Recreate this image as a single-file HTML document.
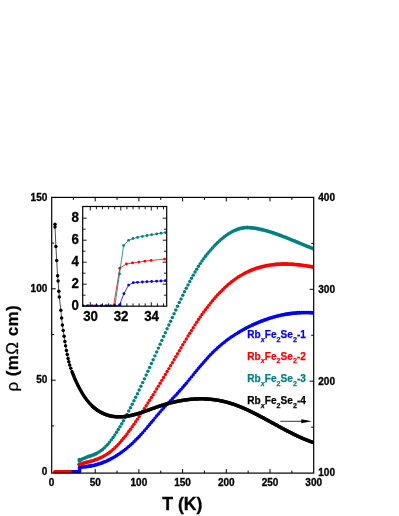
<!DOCTYPE html>
<html><head><meta charset="utf-8"><title>chart</title>
<style>html,body{margin:0;padding:0;background:#fff}body{width:399px;height:516px;overflow:hidden}</style></head>
<body>
<svg width="399" height="516" viewBox="0 0 399 516" style="display:block;will-change:transform;font-family:'Liberation Sans',sans-serif;font-weight:bold">
<rect width="399" height="516" fill="#fff"/>
<clipPath id="mc"><rect x="51.7" y="197.4" width="262.3" height="276.20000000000005"/></clipPath><g clip-path="url(#mc)">
<line x1="54.8" y1="471.7" x2="72" y2="471.7" stroke="#ff0000" stroke-width="3.5" stroke-linecap="round"/>
<polyline points="73,471.7 79.6,471.7 79.6,467.6" fill="none" stroke="#0000ff" stroke-width="3.5" stroke-linecap="round" stroke-linejoin="round"/>
<g fill="#0000ff"><circle cx="79.60" cy="467.40" r="1.72"/><circle cx="79.90" cy="466.99" r="1.73"/><circle cx="81.65" cy="466.95" r="1.94"/><circle cx="83.39" cy="466.86" r="1.94"/><circle cx="85.14" cy="466.72" r="1.93"/><circle cx="86.88" cy="466.53" r="1.93"/><circle cx="88.62" cy="466.30" r="1.93"/><circle cx="90.37" cy="466.02" r="1.92"/><circle cx="92.11" cy="465.69" r="1.92"/><circle cx="93.86" cy="465.31" r="1.91"/><circle cx="95.60" cy="464.88" r="1.90"/><circle cx="97.34" cy="464.40" r="1.89"/><circle cx="99.09" cy="463.87" r="1.89"/><circle cx="100.83" cy="463.29" r="1.88"/><circle cx="102.58" cy="462.65" r="1.87"/><circle cx="104.32" cy="461.97" r="1.86"/><circle cx="106.06" cy="461.23" r="1.85"/><circle cx="107.81" cy="460.43" r="1.84"/><circle cx="109.55" cy="459.59" r="1.83"/><circle cx="111.30" cy="458.68" r="1.82"/><circle cx="113.04" cy="457.73" r="1.81"/><circle cx="114.78" cy="456.72" r="1.80"/><circle cx="116.53" cy="455.65" r="1.79"/><circle cx="118.27" cy="454.53" r="1.79"/><circle cx="120.02" cy="453.35" r="1.78"/><circle cx="121.76" cy="452.11" r="1.77"/><circle cx="123.50" cy="450.82" r="1.76"/><circle cx="125.25" cy="449.46" r="1.76"/><circle cx="126.99" cy="448.05" r="1.75"/><circle cx="128.74" cy="446.58" r="1.75"/><circle cx="130.48" cy="445.05" r="1.74"/><circle cx="132.22" cy="443.46" r="1.74"/><circle cx="133.97" cy="441.81" r="1.74"/><circle cx="135.71" cy="440.10" r="1.73"/><circle cx="137.46" cy="438.33" r="1.73"/><circle cx="139.20" cy="436.49" r="1.73"/><circle cx="140.94" cy="434.60" r="1.73"/><circle cx="142.69" cy="432.64" r="1.73"/><circle cx="144.43" cy="430.64" r="1.73"/><circle cx="146.18" cy="428.60" r="1.72"/><circle cx="147.92" cy="426.53" r="1.72"/><circle cx="149.66" cy="424.43" r="1.72"/><circle cx="151.41" cy="422.32" r="1.72"/><circle cx="153.15" cy="420.21" r="1.72"/><circle cx="154.90" cy="418.10" r="1.72"/><circle cx="156.64" cy="416.00" r="1.72"/><circle cx="158.38" cy="413.93" r="1.72"/><circle cx="160.13" cy="411.88" r="1.73"/><circle cx="161.87" cy="409.88" r="1.73"/><circle cx="163.62" cy="407.93" r="1.73"/><circle cx="165.36" cy="406.03" r="1.73"/><circle cx="167.10" cy="404.19" r="1.73"/><circle cx="168.85" cy="402.39" r="1.73"/><circle cx="170.59" cy="400.61" r="1.73"/><circle cx="172.34" cy="398.81" r="1.73"/><circle cx="174.08" cy="396.99" r="1.73"/><circle cx="175.82" cy="395.14" r="1.73"/><circle cx="177.57" cy="393.26" r="1.73"/><circle cx="179.31" cy="391.33" r="1.73"/><circle cx="181.06" cy="389.36" r="1.73"/><circle cx="182.80" cy="387.34" r="1.73"/><circle cx="184.54" cy="385.29" r="1.72"/><circle cx="186.29" cy="383.21" r="1.72"/><circle cx="188.03" cy="381.10" r="1.72"/><circle cx="189.78" cy="378.98" r="1.72"/><circle cx="191.52" cy="376.85" r="1.72"/><circle cx="193.26" cy="374.71" r="1.72"/><circle cx="195.01" cy="372.57" r="1.72"/><circle cx="196.75" cy="370.45" r="1.72"/><circle cx="198.50" cy="368.33" r="1.72"/><circle cx="200.24" cy="366.24" r="1.72"/><circle cx="201.98" cy="364.18" r="1.72"/><circle cx="203.73" cy="362.15" r="1.73"/><circle cx="205.47" cy="360.17" r="1.73"/><circle cx="207.22" cy="358.23" r="1.73"/><circle cx="208.96" cy="356.34" r="1.73"/><circle cx="210.70" cy="354.52" r="1.73"/><circle cx="212.45" cy="352.76" r="1.73"/><circle cx="214.19" cy="351.05" r="1.74"/><circle cx="215.94" cy="349.40" r="1.74"/><circle cx="217.68" cy="347.81" r="1.74"/><circle cx="219.42" cy="346.27" r="1.75"/><circle cx="221.17" cy="344.78" r="1.75"/><circle cx="222.91" cy="343.34" r="1.76"/><circle cx="224.66" cy="341.95" r="1.76"/><circle cx="226.40" cy="340.61" r="1.76"/><circle cx="228.14" cy="339.31" r="1.77"/><circle cx="229.89" cy="338.06" r="1.77"/><circle cx="231.63" cy="336.84" r="1.78"/><circle cx="233.38" cy="335.67" r="1.79"/><circle cx="235.12" cy="334.54" r="1.79"/><circle cx="236.86" cy="333.44" r="1.80"/><circle cx="238.61" cy="332.38" r="1.80"/><circle cx="240.35" cy="331.35" r="1.81"/><circle cx="242.10" cy="330.35" r="1.81"/><circle cx="243.84" cy="329.38" r="1.82"/><circle cx="245.58" cy="328.44" r="1.82"/><circle cx="247.33" cy="327.52" r="1.83"/><circle cx="249.07" cy="326.64" r="1.83"/><circle cx="250.82" cy="325.78" r="1.83"/><circle cx="252.56" cy="324.95" r="1.84"/><circle cx="254.30" cy="324.14" r="1.84"/><circle cx="256.05" cy="323.36" r="1.85"/><circle cx="257.79" cy="322.61" r="1.85"/><circle cx="259.54" cy="321.89" r="1.86"/><circle cx="261.28" cy="321.19" r="1.86"/><circle cx="263.02" cy="320.52" r="1.87"/><circle cx="264.77" cy="319.88" r="1.87"/><circle cx="266.51" cy="319.26" r="1.88"/><circle cx="268.26" cy="318.67" r="1.88"/><circle cx="270.00" cy="318.11" r="1.89"/><circle cx="271.74" cy="317.58" r="1.89"/><circle cx="273.49" cy="317.07" r="1.90"/><circle cx="275.23" cy="316.59" r="1.90"/><circle cx="276.98" cy="316.13" r="1.90"/><circle cx="278.72" cy="315.71" r="1.91"/><circle cx="280.46" cy="315.31" r="1.91"/><circle cx="282.21" cy="314.94" r="1.92"/><circle cx="283.95" cy="314.59" r="1.92"/><circle cx="285.70" cy="314.27" r="1.92"/><circle cx="287.44" cy="313.98" r="1.93"/><circle cx="289.18" cy="313.72" r="1.93"/><circle cx="290.93" cy="313.48" r="1.93"/><circle cx="292.67" cy="313.27" r="1.93"/><circle cx="294.42" cy="313.09" r="1.93"/><circle cx="296.16" cy="312.94" r="1.94"/><circle cx="297.90" cy="312.81" r="1.94"/><circle cx="299.65" cy="312.71" r="1.94"/><circle cx="301.39" cy="312.63" r="1.94"/><circle cx="303.14" cy="312.59" r="1.94"/><circle cx="304.88" cy="312.57" r="1.94"/><circle cx="306.62" cy="312.57" r="1.94"/><circle cx="308.37" cy="312.61" r="1.94"/><circle cx="310.11" cy="312.67" r="1.94"/><circle cx="311.86" cy="312.76" r="1.94"/><circle cx="313.60" cy="312.88" r="1.94"/></g>
<g fill="#ff0000"><circle cx="79.00" cy="464.60" r="1.82"/><circle cx="79.90" cy="464.10" r="1.84"/><circle cx="81.65" cy="463.62" r="1.90"/><circle cx="83.39" cy="463.16" r="1.90"/><circle cx="85.14" cy="462.71" r="1.90"/><circle cx="86.88" cy="462.25" r="1.90"/><circle cx="88.62" cy="461.79" r="1.90"/><circle cx="90.37" cy="461.31" r="1.90"/><circle cx="92.11" cy="460.81" r="1.89"/><circle cx="93.86" cy="460.27" r="1.89"/><circle cx="95.60" cy="459.69" r="1.88"/><circle cx="97.34" cy="459.05" r="1.87"/><circle cx="99.09" cy="458.36" r="1.85"/><circle cx="100.83" cy="457.59" r="1.84"/><circle cx="102.58" cy="456.74" r="1.83"/><circle cx="104.32" cy="455.81" r="1.81"/><circle cx="106.06" cy="454.78" r="1.80"/><circle cx="107.81" cy="453.64" r="1.78"/><circle cx="109.55" cy="452.39" r="1.77"/><circle cx="111.30" cy="451.02" r="1.75"/><circle cx="113.04" cy="449.53" r="1.74"/><circle cx="114.78" cy="447.92" r="1.74"/><circle cx="116.53" cy="446.20" r="1.73"/><circle cx="118.27" cy="444.37" r="1.73"/><circle cx="120.02" cy="442.45" r="1.73"/><circle cx="121.76" cy="440.44" r="1.72"/><circle cx="123.50" cy="438.34" r="1.72"/><circle cx="125.25" cy="436.16" r="1.72"/><circle cx="126.99" cy="433.91" r="1.72"/><circle cx="128.74" cy="431.58" r="1.72"/><circle cx="130.48" cy="429.19" r="1.72"/><circle cx="132.22" cy="426.75" r="1.72"/><circle cx="133.97" cy="424.25" r="1.72"/><circle cx="135.71" cy="421.71" r="1.72"/><circle cx="137.46" cy="419.13" r="1.72"/><circle cx="139.20" cy="416.51" r="1.72"/><circle cx="140.94" cy="413.86" r="1.72"/><circle cx="142.69" cy="411.19" r="1.72"/><circle cx="144.43" cy="408.50" r="1.72"/><circle cx="146.18" cy="405.78" r="1.72"/><circle cx="147.92" cy="403.04" r="1.72"/><circle cx="149.66" cy="400.27" r="1.72"/><circle cx="151.41" cy="397.48" r="1.72"/><circle cx="153.15" cy="394.68" r="1.72"/><circle cx="154.90" cy="391.85" r="1.72"/><circle cx="156.64" cy="389.00" r="1.72"/><circle cx="158.38" cy="386.14" r="1.72"/><circle cx="160.13" cy="383.26" r="1.72"/><circle cx="161.87" cy="380.36" r="1.72"/><circle cx="163.62" cy="377.44" r="1.72"/><circle cx="165.36" cy="374.51" r="1.72"/><circle cx="167.10" cy="371.57" r="1.72"/><circle cx="168.85" cy="368.61" r="1.72"/><circle cx="170.59" cy="365.64" r="1.72"/><circle cx="172.34" cy="362.66" r="1.72"/><circle cx="174.08" cy="359.67" r="1.72"/><circle cx="175.82" cy="356.69" r="1.72"/><circle cx="177.57" cy="353.70" r="1.72"/><circle cx="179.31" cy="350.72" r="1.72"/><circle cx="181.06" cy="347.75" r="1.72"/><circle cx="182.80" cy="344.79" r="1.72"/><circle cx="184.54" cy="341.86" r="1.72"/><circle cx="186.29" cy="338.95" r="1.72"/><circle cx="188.03" cy="336.06" r="1.72"/><circle cx="189.78" cy="333.21" r="1.72"/><circle cx="191.52" cy="330.40" r="1.72"/><circle cx="193.26" cy="327.63" r="1.72"/><circle cx="195.01" cy="324.90" r="1.72"/><circle cx="196.75" cy="322.22" r="1.72"/><circle cx="198.50" cy="319.59" r="1.72"/><circle cx="200.24" cy="317.03" r="1.72"/><circle cx="201.98" cy="314.52" r="1.72"/><circle cx="203.73" cy="312.08" r="1.72"/><circle cx="205.47" cy="309.70" r="1.72"/><circle cx="207.22" cy="307.38" r="1.72"/><circle cx="208.96" cy="305.13" r="1.72"/><circle cx="210.70" cy="302.94" r="1.72"/><circle cx="212.45" cy="300.81" r="1.72"/><circle cx="214.19" cy="298.75" r="1.73"/><circle cx="215.94" cy="296.75" r="1.73"/><circle cx="217.68" cy="294.82" r="1.73"/><circle cx="219.42" cy="292.95" r="1.73"/><circle cx="221.17" cy="291.15" r="1.73"/><circle cx="222.91" cy="289.42" r="1.74"/><circle cx="224.66" cy="287.75" r="1.74"/><circle cx="226.40" cy="286.15" r="1.74"/><circle cx="228.14" cy="284.62" r="1.75"/><circle cx="229.89" cy="283.15" r="1.75"/><circle cx="231.63" cy="281.75" r="1.76"/><circle cx="233.38" cy="280.42" r="1.77"/><circle cx="235.12" cy="279.16" r="1.77"/><circle cx="236.86" cy="277.95" r="1.78"/><circle cx="238.61" cy="276.81" r="1.79"/><circle cx="240.35" cy="275.73" r="1.80"/><circle cx="242.10" cy="274.71" r="1.81"/><circle cx="243.84" cy="273.74" r="1.82"/><circle cx="245.58" cy="272.83" r="1.83"/><circle cx="247.33" cy="271.98" r="1.84"/><circle cx="249.07" cy="271.18" r="1.85"/><circle cx="250.82" cy="270.42" r="1.86"/><circle cx="252.56" cy="269.72" r="1.86"/><circle cx="254.30" cy="269.07" r="1.87"/><circle cx="256.05" cy="268.46" r="1.88"/><circle cx="257.79" cy="267.90" r="1.89"/><circle cx="259.54" cy="267.38" r="1.90"/><circle cx="261.28" cy="266.90" r="1.90"/><circle cx="263.02" cy="266.46" r="1.91"/><circle cx="264.77" cy="266.06" r="1.91"/><circle cx="266.51" cy="265.70" r="1.92"/><circle cx="268.26" cy="265.38" r="1.92"/><circle cx="270.00" cy="265.10" r="1.93"/><circle cx="271.74" cy="264.85" r="1.93"/><circle cx="273.49" cy="264.63" r="1.93"/><circle cx="275.23" cy="264.45" r="1.93"/><circle cx="276.98" cy="264.30" r="1.94"/><circle cx="278.72" cy="264.18" r="1.94"/><circle cx="280.46" cy="264.10" r="1.94"/><circle cx="282.21" cy="264.04" r="1.94"/><circle cx="283.95" cy="264.02" r="1.94"/><circle cx="285.70" cy="264.02" r="1.94"/><circle cx="287.44" cy="264.05" r="1.94"/><circle cx="289.18" cy="264.10" r="1.94"/><circle cx="290.93" cy="264.18" r="1.94"/><circle cx="292.67" cy="264.28" r="1.94"/><circle cx="294.42" cy="264.41" r="1.94"/><circle cx="296.16" cy="264.56" r="1.93"/><circle cx="297.90" cy="264.73" r="1.93"/><circle cx="299.65" cy="264.92" r="1.93"/><circle cx="301.39" cy="265.13" r="1.93"/><circle cx="303.14" cy="265.36" r="1.93"/><circle cx="304.88" cy="265.60" r="1.93"/><circle cx="306.62" cy="265.86" r="1.93"/><circle cx="308.37" cy="266.14" r="1.92"/><circle cx="310.11" cy="266.43" r="1.92"/><circle cx="311.86" cy="266.74" r="1.92"/><circle cx="313.60" cy="267.06" r="1.92"/></g>
<g fill="#008080"><circle cx="79.20" cy="459.40" r="1.72"/><circle cx="79.20" cy="461.10" r="1.72"/><circle cx="79.90" cy="460.42" r="1.75"/><circle cx="81.65" cy="459.39" r="1.82"/><circle cx="83.39" cy="458.52" r="1.84"/><circle cx="85.14" cy="457.77" r="1.86"/><circle cx="86.88" cy="457.10" r="1.87"/><circle cx="88.62" cy="456.49" r="1.88"/><circle cx="90.37" cy="455.89" r="1.88"/><circle cx="92.11" cy="455.28" r="1.87"/><circle cx="93.86" cy="454.63" r="1.86"/><circle cx="95.60" cy="453.89" r="1.84"/><circle cx="97.34" cy="453.03" r="1.82"/><circle cx="99.09" cy="452.02" r="1.79"/><circle cx="100.83" cy="450.83" r="1.77"/><circle cx="102.58" cy="449.44" r="1.75"/><circle cx="104.32" cy="447.87" r="1.74"/><circle cx="106.06" cy="446.11" r="1.73"/><circle cx="107.81" cy="444.19" r="1.73"/><circle cx="109.55" cy="442.10" r="1.72"/><circle cx="111.30" cy="439.86" r="1.72"/><circle cx="113.04" cy="437.48" r="1.72"/><circle cx="114.78" cy="434.96" r="1.72"/><circle cx="116.53" cy="432.33" r="1.72"/><circle cx="118.27" cy="429.58" r="1.72"/><circle cx="120.02" cy="426.72" r="1.72"/><circle cx="121.76" cy="423.77" r="1.72"/><circle cx="123.50" cy="420.72" r="1.72"/><circle cx="125.25" cy="417.59" r="1.72"/><circle cx="126.99" cy="414.38" r="1.72"/><circle cx="128.74" cy="411.09" r="1.72"/><circle cx="130.48" cy="407.73" r="1.72"/><circle cx="132.22" cy="404.30" r="1.72"/><circle cx="133.97" cy="400.82" r="1.72"/><circle cx="135.71" cy="397.27" r="1.72"/><circle cx="137.46" cy="393.67" r="1.72"/><circle cx="139.20" cy="390.02" r="1.72"/><circle cx="140.94" cy="386.34" r="1.72"/><circle cx="142.69" cy="382.61" r="1.72"/><circle cx="144.43" cy="378.85" r="1.72"/><circle cx="146.18" cy="375.06" r="1.72"/><circle cx="147.92" cy="371.25" r="1.72"/><circle cx="149.66" cy="367.42" r="1.72"/><circle cx="151.41" cy="363.57" r="1.72"/><circle cx="153.15" cy="359.72" r="1.72"/><circle cx="154.90" cy="355.85" r="1.72"/><circle cx="156.64" cy="351.98" r="1.72"/><circle cx="158.38" cy="348.11" r="1.72"/><circle cx="160.13" cy="344.24" r="1.72"/><circle cx="161.87" cy="340.38" r="1.72"/><circle cx="163.62" cy="336.52" r="1.72"/><circle cx="165.36" cy="332.67" r="1.72"/><circle cx="167.10" cy="328.83" r="1.72"/><circle cx="168.85" cy="325.01" r="1.72"/><circle cx="170.59" cy="321.20" r="1.72"/><circle cx="172.34" cy="317.42" r="1.72"/><circle cx="174.08" cy="313.66" r="1.72"/><circle cx="175.82" cy="309.92" r="1.72"/><circle cx="177.57" cy="306.22" r="1.72"/><circle cx="179.31" cy="302.55" r="1.72"/><circle cx="181.06" cy="298.92" r="1.72"/><circle cx="182.80" cy="295.32" r="1.72"/><circle cx="184.54" cy="291.78" r="1.72"/><circle cx="186.29" cy="288.30" r="1.72"/><circle cx="188.03" cy="284.88" r="1.72"/><circle cx="189.78" cy="281.54" r="1.72"/><circle cx="191.52" cy="278.29" r="1.72"/><circle cx="193.26" cy="275.13" r="1.72"/><circle cx="195.01" cy="272.07" r="1.72"/><circle cx="196.75" cy="269.13" r="1.72"/><circle cx="198.50" cy="266.31" r="1.72"/><circle cx="200.24" cy="263.61" r="1.72"/><circle cx="201.98" cy="261.05" r="1.72"/><circle cx="203.73" cy="258.62" r="1.72"/><circle cx="205.47" cy="256.30" r="1.72"/><circle cx="207.22" cy="254.08" r="1.72"/><circle cx="208.96" cy="251.96" r="1.72"/><circle cx="210.70" cy="249.92" r="1.73"/><circle cx="212.45" cy="247.95" r="1.73"/><circle cx="214.19" cy="246.07" r="1.73"/><circle cx="215.94" cy="244.27" r="1.73"/><circle cx="217.68" cy="242.55" r="1.74"/><circle cx="219.42" cy="240.91" r="1.74"/><circle cx="221.17" cy="239.36" r="1.75"/><circle cx="222.91" cy="237.90" r="1.76"/><circle cx="224.66" cy="236.53" r="1.76"/><circle cx="226.40" cy="235.24" r="1.77"/><circle cx="228.14" cy="234.05" r="1.79"/><circle cx="229.89" cy="232.96" r="1.80"/><circle cx="231.63" cy="231.96" r="1.82"/><circle cx="233.38" cy="231.06" r="1.83"/><circle cx="235.12" cy="230.26" r="1.85"/><circle cx="236.86" cy="229.55" r="1.87"/><circle cx="238.61" cy="228.96" r="1.89"/><circle cx="240.35" cy="228.46" r="1.90"/><circle cx="242.10" cy="228.07" r="1.92"/><circle cx="243.84" cy="227.79" r="1.93"/><circle cx="245.58" cy="227.62" r="1.94"/><circle cx="247.33" cy="227.55" r="1.94"/><circle cx="249.07" cy="227.58" r="1.94"/><circle cx="250.82" cy="227.69" r="1.94"/><circle cx="252.56" cy="227.88" r="1.93"/><circle cx="254.30" cy="228.12" r="1.93"/><circle cx="256.05" cy="228.40" r="1.92"/><circle cx="257.79" cy="228.72" r="1.92"/><circle cx="259.54" cy="229.08" r="1.91"/><circle cx="261.28" cy="229.47" r="1.91"/><circle cx="263.02" cy="229.88" r="1.91"/><circle cx="264.77" cy="230.33" r="1.90"/><circle cx="266.51" cy="230.80" r="1.90"/><circle cx="268.26" cy="231.30" r="1.89"/><circle cx="270.00" cy="231.83" r="1.89"/><circle cx="271.74" cy="232.37" r="1.89"/><circle cx="273.49" cy="232.94" r="1.88"/><circle cx="275.23" cy="233.53" r="1.88"/><circle cx="276.98" cy="234.14" r="1.88"/><circle cx="278.72" cy="234.77" r="1.87"/><circle cx="280.46" cy="235.41" r="1.87"/><circle cx="282.21" cy="236.07" r="1.87"/><circle cx="283.95" cy="236.74" r="1.86"/><circle cx="285.70" cy="237.42" r="1.86"/><circle cx="287.44" cy="238.11" r="1.86"/><circle cx="289.18" cy="238.81" r="1.86"/><circle cx="290.93" cy="239.52" r="1.86"/><circle cx="292.67" cy="240.24" r="1.86"/><circle cx="294.42" cy="240.96" r="1.86"/><circle cx="296.16" cy="241.68" r="1.86"/><circle cx="297.90" cy="242.41" r="1.86"/><circle cx="299.65" cy="243.14" r="1.86"/><circle cx="301.39" cy="243.86" r="1.86"/><circle cx="303.14" cy="244.59" r="1.86"/><circle cx="304.88" cy="245.31" r="1.86"/><circle cx="306.62" cy="246.02" r="1.86"/><circle cx="308.37" cy="246.73" r="1.86"/><circle cx="310.11" cy="247.43" r="1.86"/><circle cx="311.86" cy="248.12" r="1.86"/><circle cx="313.60" cy="248.80" r="1.86"/></g>
<polyline points="55.00,224.20 55.00,226.90 55.90,246.40 56.70,260.40 57.60,275.70 58.10,281.00 58.80,291.30 59.30,297.00 60.80,310.20 61.60,317.90 62.40,324.90 63.20,330.60 64.10,336.20 64.90,341.60 65.55,345.80 66.40,350.50 67.25,354.50 68.10,358.40 68.80,361.70 69.70,365.00 70.80,368.30" fill="none" stroke="#000" stroke-width="0.7"/>
<g fill="#000"><circle cx="55.00" cy="224.20" r="1.75"/><circle cx="55.00" cy="226.90" r="1.75"/><circle cx="55.90" cy="246.40" r="1.75"/><circle cx="56.70" cy="260.40" r="1.75"/><circle cx="57.60" cy="275.70" r="1.75"/><circle cx="58.10" cy="281.00" r="1.75"/><circle cx="58.80" cy="291.30" r="1.75"/><circle cx="59.30" cy="297.00" r="1.75"/><circle cx="60.80" cy="310.20" r="1.75"/><circle cx="61.60" cy="317.90" r="1.75"/><circle cx="62.40" cy="324.90" r="1.75"/><circle cx="63.20" cy="330.60" r="1.75"/><circle cx="64.10" cy="336.20" r="1.75"/><circle cx="64.90" cy="341.60" r="1.75"/><circle cx="65.55" cy="345.80" r="1.75"/><circle cx="66.40" cy="350.50" r="1.75"/><circle cx="67.25" cy="354.50" r="1.75"/><circle cx="68.10" cy="358.40" r="1.75"/><circle cx="68.80" cy="361.70" r="1.75"/><circle cx="69.70" cy="365.00" r="1.75"/><circle cx="70.80" cy="368.30" r="1.75"/></g>
<polyline points="72.00,371.68 72.40,372.71 72.80,373.73 73.20,374.73 73.60,375.71 74.00,376.68 74.40,377.63 74.80,378.56 75.20,379.48 75.60,380.38 76.00,381.27 76.40,382.14 76.80,383.00 77.20,383.84 77.60,384.66 78.00,385.48 78.40,386.27 78.80,387.06 79.20,387.82 79.60,388.58 80.00,389.32 80.40,390.05 80.80,390.76 81.20,391.46 81.60,392.15 82.00,392.82 82.40,393.48 82.80,394.13 83.20,394.76 83.60,395.38 84.00,395.99 84.40,396.59 84.80,397.17 85.20,397.74 85.60,398.30 86.00,398.85 86.40,399.39 86.80,399.92 87.20,400.43 87.60,400.93 88.00,401.43 88.40,401.91 88.80,402.38 89.20,402.84 89.60,403.29 90.00,403.73 90.40,404.16 90.80,404.58 91.20,404.99 91.60,405.39 92.00,405.78 92.40,406.16 92.80,406.53 93.20,406.90 93.60,407.25 94.00,407.59 94.40,407.93 94.80,408.26 95.20,408.58 95.60,408.89 96.00,409.20 96.40,409.49 96.80,409.78 97.20,410.06 97.60,410.33 98.00,410.60 98.40,410.86 98.80,411.11 99.20,411.36 99.60,411.59 100.00,411.83 100.40,412.05 100.80,412.27 101.20,412.48 101.60,412.69 102.00,412.89 102.40,413.09 102.80,413.28 103.20,413.46 103.60,413.64 104.00,413.82 104.40,413.98 104.80,414.15 105.20,414.31 105.60,414.46 106.00,414.60 106.40,414.75 106.80,414.88 107.20,415.02 107.60,415.14 108.00,415.26 108.40,415.38 108.80,415.49 109.20,415.60 109.60,415.70 110.00,415.80 110.40,415.89 110.80,415.98 111.20,416.06 111.60,416.14 112.00,416.22 112.40,416.29 112.80,416.35 113.20,416.42 113.60,416.47 114.00,416.52 114.40,416.57 114.80,416.62 115.20,416.66 115.60,416.69 116.00,416.73 116.40,416.75 116.80,416.78 117.20,416.80 117.60,416.81 118.00,416.82 118.40,416.83 118.80,416.84 119.20,416.84 119.60,416.84 120.00,416.83 120.40,416.82 120.80,416.81 121.20,416.79 121.60,416.77 122.00,416.75 122.40,416.72 122.80,416.69 123.20,416.66 123.60,416.62 124.00,416.58 124.40,416.54 124.80,416.49 125.20,416.44 125.60,416.39 126.00,416.34 126.40,416.28 126.80,416.22 127.20,416.16 127.60,416.09 128.00,416.02 128.40,415.95 128.80,415.88 129.20,415.80 129.60,415.72 130.00,415.64 130.40,415.56 130.80,415.47 131.20,415.38 131.60,415.29 132.00,415.20 132.40,415.11 132.80,415.01 133.20,414.91 133.60,414.81 134.00,414.71 134.40,414.60 134.80,414.49 135.20,414.38 135.60,414.27 136.00,414.16 136.40,414.05 136.80,413.93 137.20,413.82 137.60,413.70 138.00,413.58 138.40,413.45 138.80,413.33 139.20,413.21 139.60,413.08 140.00,412.95 140.40,412.83 140.80,412.70 141.20,412.56 141.60,412.43 142.00,412.30 142.40,412.17 142.80,412.03 143.20,411.90 143.60,411.76 144.00,411.62 144.40,411.48 144.80,411.34 145.20,411.20 145.60,411.06 146.00,410.92 146.40,410.78 146.80,410.64 147.20,410.50 147.60,410.35 148.00,410.21 148.40,410.07 148.80,409.92 149.20,409.78 149.60,409.64 150.00,409.49 150.40,409.35 150.80,409.20 151.20,409.06 151.60,408.91 152.00,408.77 152.40,408.63 152.80,408.48 153.20,408.34 153.60,408.19 154.00,408.05 154.40,407.91 154.80,407.77 155.20,407.62 155.60,407.48 156.00,407.34 156.40,407.20 156.80,407.06 157.20,406.92 157.60,406.79 158.00,406.65 158.40,406.51 158.80,406.38 159.20,406.24 159.60,406.11 160.00,405.98 160.40,405.85 160.80,405.71 161.20,405.59 161.60,405.46 162.00,405.33 162.40,405.20 162.80,405.08 163.20,404.96 163.60,404.83 164.00,404.71 164.40,404.59 164.80,404.47 165.20,404.35 165.60,404.24 166.00,404.12 166.40,404.00 166.80,403.89 167.20,403.78 167.60,403.67 168.00,403.56 168.40,403.45 168.80,403.34 169.20,403.23 169.60,403.13 170.00,403.02 170.40,402.92 170.80,402.82 171.20,402.72 171.60,402.62 172.00,402.52 172.40,402.42 172.80,402.32 173.20,402.23 173.60,402.14 174.00,402.04 174.40,401.95 174.80,401.86 175.20,401.77 175.60,401.69 176.00,401.60 176.40,401.51 176.80,401.43 177.20,401.35 177.60,401.27 178.00,401.19 178.40,401.11 178.80,401.03 179.20,400.95 179.60,400.88 180.00,400.80 180.40,400.73 180.80,400.66 181.20,400.59 181.60,400.52 182.00,400.46 182.40,400.39 182.80,400.33 183.20,400.26 183.60,400.20 184.00,400.14 184.40,400.08 184.80,400.02 185.20,399.97 185.60,399.91 186.00,399.86 186.40,399.80 186.80,399.75 187.20,399.70 187.60,399.65 188.00,399.61 188.40,399.56 188.80,399.52 189.20,399.47 189.60,399.43 190.00,399.39 190.40,399.35 190.80,399.32 191.20,399.28 191.60,399.24 192.00,399.21 192.40,399.18 192.80,399.15 193.20,399.12 193.60,399.09 194.00,399.07 194.40,399.04 194.80,399.02 195.20,399.00 195.60,398.98 196.00,398.96 196.40,398.94 196.80,398.92 197.20,398.91 197.60,398.90 198.00,398.89 198.40,398.88 198.80,398.87 199.20,398.86 199.60,398.85 200.00,398.85 200.40,398.85 200.80,398.85 201.20,398.85 201.60,398.85 202.00,398.85 202.40,398.86 202.80,398.86 203.20,398.87 203.60,398.88 204.00,398.89 204.40,398.91 204.80,398.92 205.20,398.94 205.60,398.95 206.00,398.97 206.40,398.99 206.80,399.02 207.20,399.04 207.60,399.06 208.00,399.09 208.40,399.12 208.80,399.15 209.20,399.18 209.60,399.21 210.00,399.25 210.40,399.29 210.80,399.32 211.20,399.36 211.60,399.40 212.00,399.45 212.40,399.49 212.80,399.54 213.20,399.59 213.60,399.64 214.00,399.69 214.40,399.74 214.80,399.79 215.20,399.85 215.60,399.91 216.00,399.97 216.40,400.03 216.80,400.09 217.20,400.16 217.60,400.22 218.00,400.29 218.40,400.36 218.80,400.43 219.20,400.50 219.60,400.58 220.00,400.65 220.40,400.73 220.80,400.81 221.20,400.89 221.60,400.98 222.00,401.06 222.40,401.15 222.80,401.24 223.20,401.33 223.60,401.42 224.00,401.51 224.40,401.61 224.80,401.71 225.20,401.81 225.60,401.91 226.00,402.01 226.40,402.11 226.80,402.22 227.20,402.33 227.60,402.44 228.00,402.55 228.40,402.66 228.80,402.78 229.20,402.90 229.60,403.01 230.00,403.13 230.40,403.26 230.80,403.38 231.20,403.51 231.60,403.64 232.00,403.77 232.40,403.90 232.80,404.03 233.20,404.16 233.60,404.30 234.00,404.44 234.40,404.58 234.80,404.72 235.20,404.86 235.60,405.01 236.00,405.15 236.40,405.30 236.80,405.45 237.20,405.60 237.60,405.76 238.00,405.91 238.40,406.06 238.80,406.22 239.20,406.38 239.60,406.54 240.00,406.70 240.40,406.86 240.80,407.03 241.20,407.19 241.60,407.36 242.00,407.53 242.40,407.70 242.80,407.87 243.20,408.04 243.60,408.21 244.00,408.39 244.40,408.56 244.80,408.74 245.20,408.92 245.60,409.10 246.00,409.28 246.40,409.46 246.80,409.64 247.20,409.83 247.60,410.01 248.00,410.20 248.40,410.38 248.80,410.57 249.20,410.76 249.60,410.95 250.00,411.14 250.40,411.34 250.80,411.53 251.20,411.72 251.60,411.92 252.00,412.11 252.40,412.31 252.80,412.51 253.20,412.71 253.60,412.91 254.00,413.11 254.40,413.31 254.80,413.51 255.20,413.71 255.60,413.92 256.00,414.12 256.40,414.32 256.80,414.53 257.20,414.74 257.60,414.94 258.00,415.15 258.40,415.36 258.80,415.57 259.20,415.78 259.60,415.99 260.00,416.20 260.40,416.41 260.80,416.62 261.20,416.83 261.60,417.04 262.00,417.26 262.40,417.47 262.80,417.69 263.20,417.90 263.60,418.11 264.00,418.33 264.40,418.55 264.80,418.76 265.20,418.98 265.60,419.19 266.00,419.41 266.40,419.63 266.80,419.85 267.20,420.06 267.60,420.28 268.00,420.50 268.40,420.72 268.80,420.94 269.20,421.16 269.60,421.38 270.00,421.60 270.40,421.81 270.80,422.03 271.20,422.25 271.60,422.47 272.00,422.69 272.40,422.91 272.80,423.13 273.20,423.35 273.60,423.57 274.00,423.79 274.40,424.01 274.80,424.23 275.20,424.45 275.60,424.67 276.00,424.89 276.40,425.11 276.80,425.33 277.20,425.55 277.60,425.77 278.00,425.98 278.40,426.20 278.80,426.42 279.20,426.64 279.60,426.86 280.00,427.07 280.40,427.29 280.80,427.51 281.20,427.72 281.60,427.94 282.00,428.16 282.40,428.37 282.80,428.59 283.20,428.80 283.60,429.01 284.00,429.23 284.40,429.44 284.80,429.65 285.20,429.87 285.60,430.08 286.00,430.29 286.40,430.50 286.80,430.71 287.20,430.92 287.60,431.13 288.00,431.33 288.40,431.54 288.80,431.75 289.20,431.95 289.60,432.16 290.00,432.37 290.40,432.57 290.80,432.77 291.20,432.98 291.60,433.18 292.00,433.38 292.40,433.58 292.80,433.78 293.20,433.98 293.60,434.17 294.00,434.37 294.40,434.57 294.80,434.76 295.20,434.96 295.60,435.15 296.00,435.34 296.40,435.53 296.80,435.72 297.20,435.91 297.60,436.10 298.00,436.29 298.40,436.47 298.80,436.66 299.20,436.84 299.60,437.02 300.00,437.21 300.40,437.39 300.80,437.57 301.20,437.74 301.60,437.92 302.00,438.10 302.40,438.27 302.80,438.44 303.20,438.62 303.60,438.79 304.00,438.96 304.40,439.12 304.80,439.29 305.20,439.46 305.60,439.62 306.00,439.78 306.40,439.94 306.80,440.10 307.20,440.26 307.60,440.42 308.00,440.57 308.40,440.73 308.80,440.88 309.20,441.03 309.60,441.18 310.00,441.33 310.40,441.48 310.80,441.62 311.20,441.76 311.60,441.90 312.00,442.04 312.40,442.18 312.80,442.32 313.20,442.45 313.60,442.59" fill="none" stroke="#000" stroke-width="3.4" stroke-linecap="round" stroke-linejoin="round"/>
<polyline points="92.40,406.16 92.80,406.53 93.20,406.90 93.60,407.25 94.00,407.59 94.40,407.93 94.80,408.26 95.20,408.58 95.60,408.89 96.00,409.20 96.40,409.49 96.80,409.78 97.20,410.06 97.60,410.33 98.00,410.60 98.40,410.86 98.80,411.11 99.20,411.36 99.60,411.59 100.00,411.83 100.40,412.05 100.80,412.27 101.20,412.48 101.60,412.69 102.00,412.89 102.40,413.09 102.80,413.28 103.20,413.46 103.60,413.64 104.00,413.82 104.40,413.98 104.80,414.15 105.20,414.31 105.60,414.46 106.00,414.60 106.40,414.75 106.80,414.88 107.20,415.02 107.60,415.14 108.00,415.26 108.40,415.38 108.80,415.49 109.20,415.60 109.60,415.70 110.00,415.80 110.40,415.89 110.80,415.98 111.20,416.06 111.60,416.14 112.00,416.22 112.40,416.29 112.80,416.35 113.20,416.42 113.60,416.47 114.00,416.52 114.40,416.57 114.80,416.62 115.20,416.66 115.60,416.69 116.00,416.73 116.40,416.75 116.80,416.78 117.20,416.80 117.60,416.81 118.00,416.82 118.40,416.83 118.80,416.84 119.20,416.84 119.60,416.84 120.00,416.83 120.40,416.82 120.80,416.81 121.20,416.79 121.60,416.77 122.00,416.75 122.40,416.72 122.80,416.69 123.20,416.66 123.60,416.62 124.00,416.58 124.40,416.54 124.80,416.49 125.20,416.44 125.60,416.39 126.00,416.34 126.40,416.28 126.80,416.22 127.20,416.16 127.60,416.09 128.00,416.02 128.40,415.95 128.80,415.88 129.20,415.80 129.60,415.72 130.00,415.64 130.40,415.56 130.80,415.47 131.20,415.38 131.60,415.29 132.00,415.20 132.40,415.11 132.80,415.01 133.20,414.91 133.60,414.81 134.00,414.71 134.40,414.60 134.80,414.49 135.20,414.38 135.60,414.27 136.00,414.16 136.40,414.05 136.80,413.93 137.20,413.82 137.60,413.70 138.00,413.58 138.40,413.45 138.80,413.33 139.20,413.21 139.60,413.08 140.00,412.95 140.40,412.83 140.80,412.70 141.20,412.56 141.60,412.43 142.00,412.30 142.40,412.17 142.80,412.03 143.20,411.90 143.60,411.76 144.00,411.62 144.40,411.48 144.80,411.34 145.20,411.20 145.60,411.06 146.00,410.92 146.40,410.78 146.80,410.64 147.20,410.50 147.60,410.35 148.00,410.21 148.40,410.07 148.80,409.92 149.20,409.78 149.60,409.64 150.00,409.49 150.40,409.35 150.80,409.20 151.20,409.06 151.60,408.91 152.00,408.77 152.40,408.63 152.80,408.48 153.20,408.34 153.60,408.19 154.00,408.05 154.40,407.91 154.80,407.77 155.20,407.62 155.60,407.48 156.00,407.34 156.40,407.20 156.80,407.06 157.20,406.92 157.60,406.79 158.00,406.65 158.40,406.51 158.80,406.38 159.20,406.24 159.60,406.11 160.00,405.98 160.40,405.85 160.80,405.71 161.20,405.59 161.60,405.46 162.00,405.33 162.40,405.20 162.80,405.08 163.20,404.96 163.60,404.83 164.00,404.71 164.40,404.59 164.80,404.47 165.20,404.35 165.60,404.24 166.00,404.12 166.40,404.00 166.80,403.89 167.20,403.78 167.60,403.67 168.00,403.56 168.40,403.45 168.80,403.34 169.20,403.23 169.60,403.13 170.00,403.02 170.40,402.92 170.80,402.82 171.20,402.72 171.60,402.62 172.00,402.52 172.40,402.42 172.80,402.32 173.20,402.23 173.60,402.14 174.00,402.04 174.40,401.95 174.80,401.86 175.20,401.77 175.60,401.69 176.00,401.60 176.40,401.51 176.80,401.43 177.20,401.35 177.60,401.27 178.00,401.19 178.40,401.11 178.80,401.03 179.20,400.95 179.60,400.88 180.00,400.80 180.40,400.73 180.80,400.66 181.20,400.59 181.60,400.52 182.00,400.46 182.40,400.39 182.80,400.33 183.20,400.26 183.60,400.20 184.00,400.14 184.40,400.08 184.80,400.02 185.20,399.97 185.60,399.91 186.00,399.86 186.40,399.80 186.80,399.75 187.20,399.70 187.60,399.65 188.00,399.61 188.40,399.56 188.80,399.52 189.20,399.47 189.60,399.43 190.00,399.39 190.40,399.35 190.80,399.32 191.20,399.28 191.60,399.24 192.00,399.21 192.40,399.18 192.80,399.15 193.20,399.12 193.60,399.09 194.00,399.07 194.40,399.04 194.80,399.02 195.20,399.00 195.60,398.98 196.00,398.96 196.40,398.94 196.80,398.92 197.20,398.91 197.60,398.90 198.00,398.89 198.40,398.88 198.80,398.87 199.20,398.86 199.60,398.85 200.00,398.85 200.40,398.85 200.80,398.85 201.20,398.85 201.60,398.85 202.00,398.85 202.40,398.86 202.80,398.86 203.20,398.87 203.60,398.88 204.00,398.89 204.40,398.91 204.80,398.92 205.20,398.94 205.60,398.95 206.00,398.97 206.40,398.99 206.80,399.02 207.20,399.04 207.60,399.06 208.00,399.09 208.40,399.12 208.80,399.15 209.20,399.18 209.60,399.21 210.00,399.25 210.40,399.29 210.80,399.32 211.20,399.36 211.60,399.40 212.00,399.45 212.40,399.49 212.80,399.54 213.20,399.59 213.60,399.64 214.00,399.69 214.40,399.74 214.80,399.79 215.20,399.85 215.60,399.91 216.00,399.97 216.40,400.03 216.80,400.09 217.20,400.16 217.60,400.22 218.00,400.29 218.40,400.36 218.80,400.43 219.20,400.50 219.60,400.58 220.00,400.65 220.40,400.73 220.80,400.81 221.20,400.89 221.60,400.98 222.00,401.06 222.40,401.15 222.80,401.24 223.20,401.33 223.60,401.42 224.00,401.51 224.40,401.61 224.80,401.71 225.20,401.81 225.60,401.91 226.00,402.01 226.40,402.11 226.80,402.22 227.20,402.33 227.60,402.44 228.00,402.55 228.40,402.66 228.80,402.78 229.20,402.90 229.60,403.01 230.00,403.13 230.40,403.26 230.80,403.38 231.20,403.51 231.60,403.64 232.00,403.77 232.40,403.90 232.80,404.03 233.20,404.16 233.60,404.30 234.00,404.44 234.40,404.58 234.80,404.72 235.20,404.86 235.60,405.01 236.00,405.15 236.40,405.30 236.80,405.45 237.20,405.60 237.60,405.76 238.00,405.91 238.40,406.06 238.80,406.22 239.20,406.38 239.60,406.54 240.00,406.70 240.40,406.86 240.80,407.03 241.20,407.19 241.60,407.36 242.00,407.53 242.40,407.70 242.80,407.87 243.20,408.04 243.60,408.21 244.00,408.39 244.40,408.56 244.80,408.74 245.20,408.92 245.60,409.10 246.00,409.28 246.40,409.46 246.80,409.64 247.20,409.83 247.60,410.01 248.00,410.20 248.40,410.38 248.80,410.57 249.20,410.76 249.60,410.95 250.00,411.14 250.40,411.34 250.80,411.53 251.20,411.72 251.60,411.92 252.00,412.11 252.40,412.31 252.80,412.51 253.20,412.71 253.60,412.91 254.00,413.11 254.40,413.31 254.80,413.51 255.20,413.71 255.60,413.92 256.00,414.12 256.40,414.32 256.80,414.53 257.20,414.74 257.60,414.94 258.00,415.15 258.40,415.36 258.80,415.57 259.20,415.78 259.60,415.99 260.00,416.20 260.40,416.41 260.80,416.62 261.20,416.83 261.60,417.04 262.00,417.26 262.40,417.47 262.80,417.69 263.20,417.90 263.60,418.11 264.00,418.33 264.40,418.55 264.80,418.76 265.20,418.98 265.60,419.19 266.00,419.41 266.40,419.63 266.80,419.85 267.20,420.06 267.60,420.28 268.00,420.50 268.40,420.72 268.80,420.94 269.20,421.16 269.60,421.38 270.00,421.60 270.40,421.81 270.80,422.03 271.20,422.25 271.60,422.47 272.00,422.69 272.40,422.91 272.80,423.13 273.20,423.35 273.60,423.57 274.00,423.79 274.40,424.01 274.80,424.23 275.20,424.45 275.60,424.67 276.00,424.89 276.40,425.11 276.80,425.33 277.20,425.55 277.60,425.77 278.00,425.98 278.40,426.20 278.80,426.42 279.20,426.64 279.60,426.86 280.00,427.07 280.40,427.29 280.80,427.51 281.20,427.72 281.60,427.94 282.00,428.16 282.40,428.37 282.80,428.59 283.20,428.80 283.60,429.01 284.00,429.23 284.40,429.44 284.80,429.65 285.20,429.87 285.60,430.08 286.00,430.29 286.40,430.50 286.80,430.71 287.20,430.92 287.60,431.13 288.00,431.33 288.40,431.54 288.80,431.75 289.20,431.95 289.60,432.16 290.00,432.37 290.40,432.57 290.80,432.77 291.20,432.98 291.60,433.18 292.00,433.38 292.40,433.58 292.80,433.78 293.20,433.98 293.60,434.17 294.00,434.37 294.40,434.57 294.80,434.76 295.20,434.96 295.60,435.15 296.00,435.34 296.40,435.53 296.80,435.72 297.20,435.91 297.60,436.10 298.00,436.29 298.40,436.47 298.80,436.66 299.20,436.84 299.60,437.02 300.00,437.21 300.40,437.39 300.80,437.57 301.20,437.74 301.60,437.92 302.00,438.10 302.40,438.27 302.80,438.44 303.20,438.62 303.60,438.79 304.00,438.96 304.40,439.12 304.80,439.29 305.20,439.46 305.60,439.62 306.00,439.78 306.40,439.94 306.80,440.10 307.20,440.26 307.60,440.42 308.00,440.57 308.40,440.73 308.80,440.88 309.20,441.03 309.60,441.18 310.00,441.33 310.40,441.48 310.80,441.62 311.20,441.76 311.60,441.90 312.00,442.04 312.40,442.18 312.80,442.32 313.20,442.45 313.60,442.59" fill="none" stroke="#000" stroke-width="3.5" stroke-linecap="round" stroke-linejoin="round"/>
</g>
<rect x="51.7" y="197.4" width="262.0" height="275.70000000000005" fill="none" stroke="#000" stroke-width="1.2"/>
<path d="M73.35 197.4v2.5M95.20 473.1v-4M95.20 197.4v4M117.05 473.1v-2.5M117.05 197.4v2.5M138.90 473.1v-4M138.90 197.4v4M160.75 473.1v-2.5M160.75 197.4v2.5M182.60 473.1v-4M182.60 197.4v4M204.45 473.1v-2.5M204.45 197.4v2.5M226.30 473.1v-4M226.30 197.4v4M248.15 473.1v-2.5M248.15 197.4v2.5M270.00 473.1v-4M270.00 197.4v4M291.85 473.1v-2.5M291.85 197.4v2.5M51.7 425.90h2.5M51.7 380.20h4M51.7 334.50h2.5M51.7 288.80h4M51.7 243.10h2.5M313.7 427.15h-2.5M313.7 381.20h-4M313.7 335.25h-2.5M313.7 289.30h-4M313.7 243.35h-2.5" stroke="#000" stroke-width="1" fill="none"/>
<g font-size="10" fill="#000" stroke="#000" stroke-width="0.3">
<text x="51.5" y="485.5" text-anchor="middle">0</text>
<text x="95.2" y="485.5" text-anchor="middle">50</text>
<text x="138.9" y="485.5" text-anchor="middle">100</text>
<text x="182.6" y="485.5" text-anchor="middle">150</text>
<text x="226.3" y="485.5" text-anchor="middle">200</text>
<text x="270.0" y="485.5" text-anchor="middle">250</text>
<text x="313.7" y="485.5" text-anchor="middle">300</text>
<text x="47.3" y="474.8" text-anchor="end">0</text>
<text x="47.3" y="383.4" text-anchor="end">50</text>
<text x="47.3" y="292.0" text-anchor="end">100</text>
<text x="47.3" y="200.6" text-anchor="end">150</text>
<text x="318.3" y="476.4" text-anchor="start">100</text>
<text x="318.3" y="384.5" text-anchor="start">200</text>
<text x="318.3" y="292.6" text-anchor="start">300</text>
<text x="318.3" y="200.7" text-anchor="start">400</text>
</g>
<text x="182.4" y="510.3" font-size="17.6" text-anchor="middle" fill="#000" stroke="#000" stroke-width="0.35">T (K)</text>
<text transform="translate(18,391.6) rotate(-90)" font-size="17" textLength="86.4" lengthAdjust="spacing" fill="#000" stroke="#000" stroke-width="0.25"><tspan font-weight="normal">ρ</tspan> (m<tspan font-weight="normal">Ω</tspan> cm)</text>
<text x="247.3" y="338.3" font-size="10.1" fill="#0000ff" stroke="#0000ff" stroke-width="0.25">Rb<tspan font-size="7.2" dy="3.9" font-style="italic">x</tspan><tspan dy="-3.9">Fe</tspan><tspan font-size="7.2" dy="3.9">2</tspan><tspan dy="-3.9">Se</tspan><tspan font-size="7.2" dy="3.9">2</tspan><tspan dy="-3.9">-1</tspan></text>
<text x="247.3" y="359.5" font-size="10.1" fill="#ff0000" stroke="#ff0000" stroke-width="0.25">Rb<tspan font-size="7.2" dy="3.9" font-style="italic">x</tspan><tspan dy="-3.9">Fe</tspan><tspan font-size="7.2" dy="3.9">2</tspan><tspan dy="-3.9">Se</tspan><tspan font-size="7.2" dy="3.9">2</tspan><tspan dy="-3.9">-2</tspan></text>
<text x="247.3" y="382.0" font-size="10.1" fill="#008080" stroke="#008080" stroke-width="0.25">Rb<tspan font-size="7.2" dy="3.9" font-style="italic">x</tspan><tspan dy="-3.9">Fe</tspan><tspan font-size="7.2" dy="3.9">2</tspan><tspan dy="-3.9">Se</tspan><tspan font-size="7.2" dy="3.9">2</tspan><tspan dy="-3.9">-3</tspan></text>
<text x="247.3" y="403.9" font-size="10.1" fill="#000" stroke="#000" stroke-width="0.25">Rb<tspan font-size="7.2" dy="3.9" font-style="italic">x</tspan><tspan dy="-3.9">Fe</tspan><tspan font-size="7.2" dy="3.9">2</tspan><tspan dy="-3.9">Se</tspan><tspan font-size="7.2" dy="3.9">2</tspan><tspan dy="-3.9">-4</tspan></text>
<path d="M280.3 421.3H303" stroke="#000" stroke-width="0.8"/><path d="M311.8 421.3L301.3 419.3V423.3Z" fill="#000"/>
<rect x="82.7" y="206.5" width="83.99999999999999" height="99.69999999999999" fill="#fff" stroke="none"/>
<clipPath id="ic"><rect x="82.7" y="206.5" width="83.99999999999999" height="99.69999999999999"/></clipPath><g clip-path="url(#ic)">
<polyline points="82.60,306.00 88.80,306.00 95.00,306.00 101.20,306.00 107.40,306.00 113.60,305.70 119.80,268.20 126.40,264.00 132.50,262.90 138.80,262.10 144.90,261.20 151.10,260.40 164.60,259.10" fill="none" stroke="#ff0000" stroke-width="0.8"/>
<g fill="#ff0000"><circle cx="82.60" cy="306.00" r="1.40"/><circle cx="88.80" cy="306.00" r="1.40"/><circle cx="95.00" cy="306.00" r="1.40"/><circle cx="101.20" cy="306.00" r="1.40"/><circle cx="107.40" cy="306.00" r="1.40"/><circle cx="113.60" cy="305.70" r="1.40"/><circle cx="119.80" cy="268.20" r="1.40"/><circle cx="126.40" cy="264.00" r="1.40"/><circle cx="132.50" cy="262.90" r="1.40"/><circle cx="138.80" cy="262.10" r="1.40"/><circle cx="144.90" cy="261.20" r="1.40"/><circle cx="151.10" cy="260.40" r="1.40"/><circle cx="164.60" cy="259.10" r="1.40"/></g>
<polyline points="83.50,306.00 88.10,306.00 92.70,306.00 97.30,306.00 101.90,306.00 106.50,306.00 111.10,305.90 114.90,305.70 119.50,273.90 123.60,245.60 128.60,240.30 133.00,238.50 137.50,237.40 142.40,236.40 147.00,235.50 151.60,234.70 156.60,233.90 161.00,233.20 165.30,232.60" fill="none" stroke="#008080" stroke-width="0.8"/>
<g fill="#008080"><circle cx="83.50" cy="306.00" r="1.40"/><circle cx="88.10" cy="306.00" r="1.40"/><circle cx="92.70" cy="306.00" r="1.40"/><circle cx="97.30" cy="306.00" r="1.40"/><circle cx="101.90" cy="306.00" r="1.40"/><circle cx="106.50" cy="306.00" r="1.40"/><circle cx="111.10" cy="305.90" r="1.40"/><circle cx="114.90" cy="305.70" r="1.40"/><circle cx="119.50" cy="273.90" r="1.40"/><circle cx="123.60" cy="245.60" r="1.40"/><circle cx="128.60" cy="240.30" r="1.40"/><circle cx="133.00" cy="238.50" r="1.40"/><circle cx="137.50" cy="237.40" r="1.40"/><circle cx="142.40" cy="236.40" r="1.40"/><circle cx="147.00" cy="235.50" r="1.40"/><circle cx="151.60" cy="234.70" r="1.40"/><circle cx="156.60" cy="233.90" r="1.40"/><circle cx="161.00" cy="233.20" r="1.40"/><circle cx="165.30" cy="232.60" r="1.40"/></g>
<polyline points="82.70,306.00 87.30,306.00 91.90,306.00 96.50,306.00 101.10,306.00 105.70,306.00 110.30,306.00 114.90,305.90 119.50,304.90 123.90,293.70 128.60,285.10 133.30,282.70 137.50,282.30 142.40,282.00 147.00,281.70 151.60,281.50 156.60,281.20 161.00,281.00 165.30,280.70" fill="none" stroke="#0000ff" stroke-width="0.8"/>
<g fill="#0000ff"><circle cx="82.70" cy="306.00" r="1.40"/><circle cx="87.30" cy="306.00" r="1.40"/><circle cx="91.90" cy="306.00" r="1.40"/><circle cx="96.50" cy="306.00" r="1.40"/><circle cx="101.10" cy="306.00" r="1.40"/><circle cx="105.70" cy="306.00" r="1.40"/><circle cx="110.30" cy="306.00" r="1.40"/><circle cx="114.90" cy="305.90" r="1.40"/><circle cx="119.50" cy="304.90" r="1.40"/><circle cx="123.90" cy="293.70" r="1.40"/><circle cx="128.60" cy="285.10" r="1.40"/><circle cx="133.30" cy="282.70" r="1.40"/><circle cx="137.50" cy="282.30" r="1.40"/><circle cx="142.40" cy="282.00" r="1.40"/><circle cx="147.00" cy="281.70" r="1.40"/><circle cx="151.60" cy="281.50" r="1.40"/><circle cx="156.60" cy="281.20" r="1.40"/><circle cx="161.00" cy="281.00" r="1.40"/><circle cx="165.30" cy="280.70" r="1.40"/></g>
</g>
<rect x="82.7" y="206.5" width="83.99999999999999" height="99.69999999999999" fill="none" stroke="#000" stroke-width="1.2"/>
<path d="M90.30 306.2v-4M90.30 206.5v4M96.40 306.2v-2.8M96.40 206.5v2.8M102.50 306.2v-2.8M102.50 206.5v2.8M108.60 306.2v-2.8M108.60 206.5v2.8M114.70 306.2v-2.8M114.70 206.5v2.8M120.80 306.2v-4M120.80 206.5v4M126.90 306.2v-2.8M126.90 206.5v2.8M133.00 306.2v-2.8M133.00 206.5v2.8M139.10 306.2v-2.8M139.10 206.5v2.8M145.20 306.2v-2.8M145.20 206.5v2.8M151.30 306.2v-4M151.30 206.5v4M157.40 306.2v-2.8M157.40 206.5v2.8M163.50 306.2v-2.8M163.50 206.5v2.8M82.7 295.20h2.8M166.7 295.20h-2.8M82.7 284.20h4M166.7 284.20h-4M82.7 273.20h2.8M166.7 273.20h-2.8M82.7 262.20h4M166.7 262.20h-4M82.7 251.20h2.8M166.7 251.20h-2.8M82.7 240.20h4M166.7 240.20h-4M82.7 229.20h2.8M166.7 229.20h-2.8M82.7 218.20h4M166.7 218.20h-4" stroke="#000" stroke-width="0.9" fill="none"/>
<g font-size="14" fill="#000" stroke="#000" stroke-width="0.3">
<text transform="translate(90.6,320.8) scale(0.95,1)" text-anchor="middle">30</text>
<text transform="translate(121.1,320.8) scale(0.95,1)" text-anchor="middle">32</text>
<text transform="translate(151.6,320.8) scale(0.95,1)" text-anchor="middle">34</text>
<text transform="translate(78.8,310.1) scale(0.95,1)" text-anchor="end">0</text>
<text transform="translate(78.8,288.1) scale(0.95,1)" text-anchor="end">2</text>
<text transform="translate(78.8,266.1) scale(0.95,1)" text-anchor="end">4</text>
<text transform="translate(78.8,244.1) scale(0.95,1)" text-anchor="end">6</text>
<text transform="translate(78.8,222.1) scale(0.95,1)" text-anchor="end">8</text>
</g>
</svg>
</body></html>
